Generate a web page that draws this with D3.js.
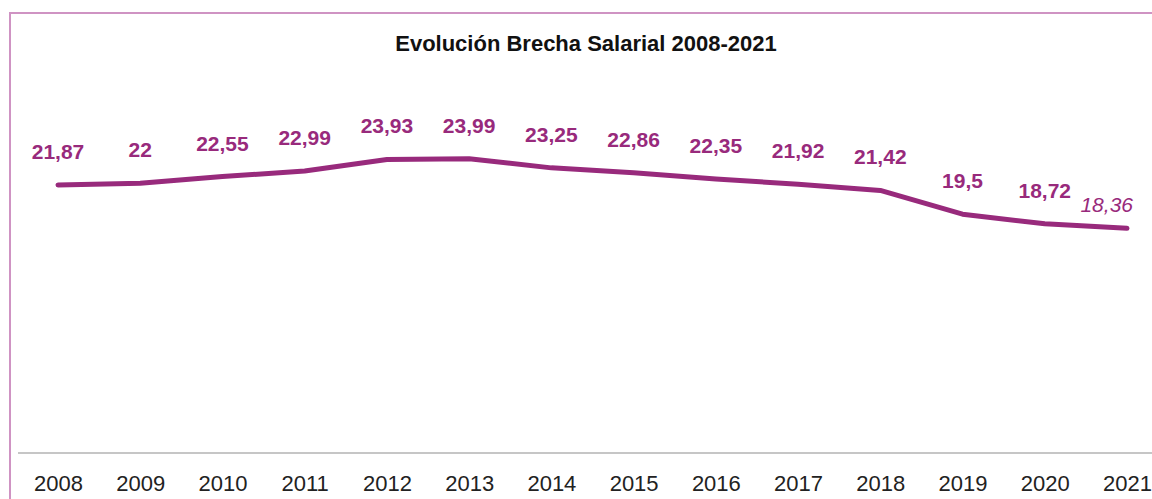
<!DOCTYPE html>
<html>
<head>
<meta charset="utf-8">
<script src="https://cdn.jsdelivr.net/npm/d3@7"></script>
<style>
  body { margin: 0; background: #fff; }
  svg { display: block; font-family: "Liberation Sans", Arial, sans-serif; }
</style>
</head>
<body>
<svg width="1152" height="499"></svg>
<script>
// data
var years = ["2008", "2009", "2010", "2011", "2012", "2013", "2014",
             "2015", "2016", "2017", "2018", "2019", "2020", "2021"];
var gap = [21.87, 22, 22.55, 22.99, 23.93, 23.99, 23.25,
           22.86, 22.35, 21.92, 21.42, 19.5, 18.72, 18.36];
var labels = ["21,87", "22", "22,55", "22,99", "23,93", "23,99", "23,25",
              "22,86", "22,35", "21,92", "21,42", "19,5", "18,72", "18,36"];

var purple = "#982a7c";

var svg = d3.select("svg");

// frame around the chart
svg.append("path")
    .attr("d", "M10,500 V13 H1160")
    .attr("fill", "none")
    .attr("stroke", "#cf93c3")
    .attr("stroke-width", 2);

var x = d3.scalePoint()
    .domain(years)
    .range([58, 1127]);

var y = d3.scaleLinear()
    .domain([0, 25])
    .range([455, 146.25]);

// title
svg.append("text")
    .attr("x", 586)
    .attr("y", 51)
    .attr("text-anchor", "middle")
    .attr("font-size", 22)
    .attr("font-weight", "bold")
    .attr("fill", "#111")
    .text("Evolución Brecha Salarial 2008-2021");

// x axis
var xAxis = svg.append("g")
    .attr("transform", "translate(0,453)")
    .call(d3.axisBottom(x).tickSize(0).tickPadding(22));
xAxis.select(".domain").remove();
xAxis.append("line")
    .attr("x1", 18).attr("x2", 1152)
    .attr("stroke", "#c6c6c6")
    .attr("stroke-width", 2);
xAxis.selectAll(".tick text")
    .attr("font-size", 22)
    .attr("font-family", "Liberation Sans, Arial, sans-serif")
    .attr("fill", "#222");

// the line
var line = d3.line()
    .x(function (d, i) { return x(years[i]); })
    .y(function (d) { return y(d); });

svg.append("path")
    .datum(gap)
    .attr("d", line)
    .attr("fill", "none")
    .attr("stroke", purple)
    .attr("stroke-width", 5)
    .attr("stroke-linecap", "round")
    .attr("stroke-linejoin", "round");

// value labels (the last one is italic and sits left of its point)
var last = gap.length - 1;
svg.selectAll("text.val")
    .data(gap)
    .enter().append("text")
    .attr("class", "val")
    .attr("x", function (d, i) { return x(years[i]) + (i === last ? 6 : 0); })
    .attr("y", function (d, i) { return y(d) - (i === last ? 16 : 26); })
    .attr("text-anchor", function (d, i) { return i === last ? "end" : "middle"; })
    .attr("font-size", 21)
    .attr("font-weight", function (d, i) { return i === last ? "normal" : "bold"; })
    .attr("font-style", function (d, i) { return i === last ? "italic" : "normal"; })
    .attr("fill", purple)
    .text(function (d, i) { return labels[i]; });
</script>
</body>
</html>
